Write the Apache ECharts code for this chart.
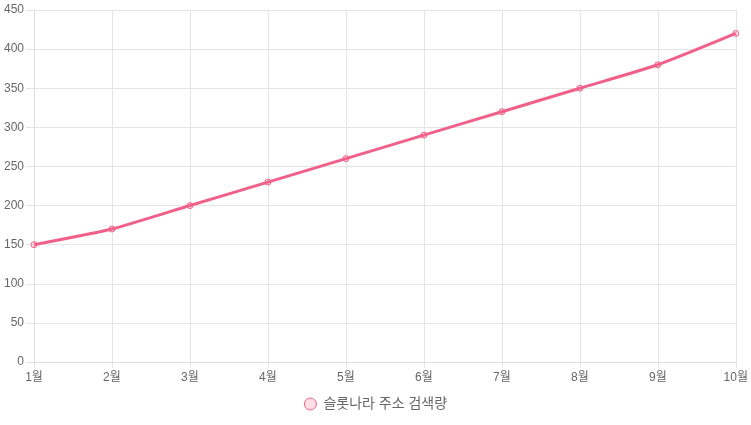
<!DOCTYPE html>
<html><head><meta charset="utf-8">
<script src="https://cdn.jsdelivr.net/npm/echarts@6/dist/echarts.min.js"></script>
<style>html,body{margin:0;padding:0;background:#fff}#c{width:751px;height:425px}</style>
</head><body><div id="c"></div>
<script>
const categories = ['1월','2월','3월','4월','5월','6월','7월','8월','9월','10월'];
const seriesName = '슬롯나라 주소 검색량';
const values = [150, 170, 200, 230, 260, 290, 320, 350, 380, 420];
const yTicks = {min: 0, max: 450, interval: 50};

const chart = echarts.init(document.getElementById('c'), null, {renderer: 'canvas'});
const font = "'Liberation Sans', 'Noto Sans CJK KR', sans-serif";
chart.setOption({
  animation: false,
  textStyle: {fontFamily: font},
  grid: {left: 34, right: 15, top: 10, bottom: 63, containLabel: false},
  legend: {
    bottom: 9, left: 'center',
    icon: 'circle', itemWidth: 12, itemHeight: 12, itemGap: 10,
    textStyle: {color: '#666', fontSize: 14, fontFamily: font, padding: [0, 0, 0, 2]},
    data: [{name: seriesName, itemStyle: {color: 'rgba(255,99,132,0.2)', borderColor: '#f0608a', borderWidth: 1}}]
  },
  xAxis: {
    type: 'category', data: categories, boundaryGap: false,
    axisLine: {show: true, lineStyle: {color: '#ddd'}},
    axisTick: {show: true, length: 6, lineStyle: {color: '#e5e5e5'}},
    axisLabel: {color: '#666', fontSize: 12, margin: 10, fontFamily: font},
    splitLine: {show: true, lineStyle: {color: '#e5e5e5'}}
  },
  yAxis: {
    type: 'value', min: yTicks.min, max: yTicks.max, interval: yTicks.interval,
    axisLine: {show: true, lineStyle: {color: '#ddd'}},
    axisTick: {show: true, length: 8, lineStyle: {color: '#e5e5e5'}},
    axisLabel: {color: '#666', fontSize: 12, margin: 10, fontFamily: font},
    splitLine: {show: true, lineStyle: {color: '#e5e5e5'}}
  },
  series: [{
    name: seriesName, type: 'line', data: values, smooth: 0.2,
    symbol: 'circle', symbolSize: 6,
    lineStyle: {color: '#f0608a', width: 3},
    itemStyle: {color: 'rgba(255,99,132,0.2)', borderColor: '#f0608a', borderWidth: 1}
  }]
});
</script></body></html>
